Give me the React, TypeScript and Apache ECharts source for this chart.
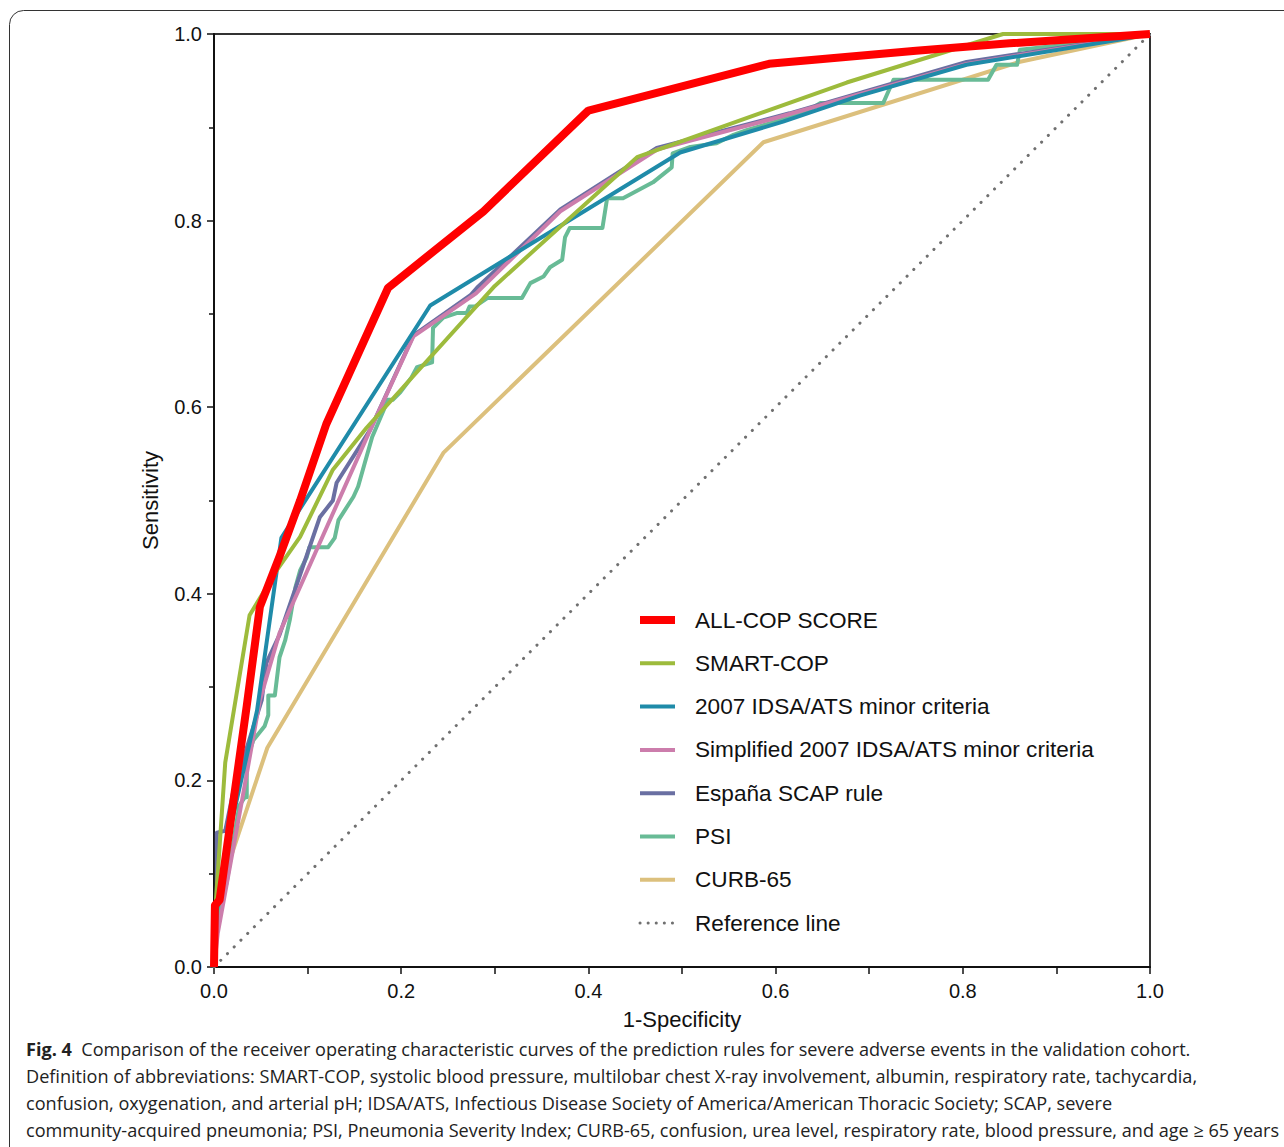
import React, { useEffect, useRef } from "react";
import * as echarts from "echarts";

// ---------- data (x = 1-Specificity, y = Sensitivity) ----------
const allCop: number[][] = [
  [0, 0], [0.001, 0.066], [0.006, 0.072], [0.035, 0.28], [0.049, 0.386], [0.07, 0.44],
  [0.092, 0.5], [0.12, 0.582], [0.186, 0.728], [0.288, 0.81], [0.4, 0.918], [0.593, 0.968],
  [0.75, 0.982], [0.85, 0.99], [1, 1],
];
const smartCop: number[][] = [
  [0, 0], [0.002, 0.07], [0.012, 0.219], [0.038, 0.377], [0.067, 0.425], [0.092, 0.461],
  [0.127, 0.533], [0.163, 0.578], [0.3, 0.73], [0.452, 0.868], [0.676, 0.948], [0.843, 1], [1, 1],
];
const idsa2007: number[][] = [
  [0, 0], [0.003, 0.06], [0.02, 0.16], [0.046, 0.275], [0.072, 0.46], [0.231, 0.709],
  [0.498, 0.873], [0.608, 0.906], [0.69, 0.934], [0.804, 0.967], [0.968, 0.994], [1, 1],
];
const simplifiedIdsa: number[][] = [
  [0, 0], [0.004, 0.036], [0.03, 0.179], [0.049, 0.286], [0.07, 0.358], [0.167, 0.576],
  [0.213, 0.676], [0.28, 0.722], [0.37, 0.81], [0.473, 0.876], [0.6, 0.91], [0.804, 0.968], [1, 1],
];
const espanaScap: number[][] = [
  [0, 0], [0.003, 0.07], [0.003, 0.144], [0.012, 0.146], [0.021, 0.19], [0.051, 0.286],
  [0.056, 0.326], [0.07, 0.356], [0.113, 0.482], [0.127, 0.5], [0.131, 0.519], [0.167, 0.576],
  [0.213, 0.677], [0.274, 0.72], [0.281, 0.728], [0.37, 0.812], [0.473, 0.878], [0.615, 0.915],
  [0.804, 0.97], [1, 1],
];
const psi: number[][] = [
  [0, 0], [0.002, 0.04], [0.008, 0.07], [0.0135, 0.09], [0.027, 0.173], [0.033, 0.182],
  [0.035, 0.182], [0.035, 0.222], [0.042, 0.243], [0.054, 0.258], [0.058, 0.27], [0.058, 0.291],
  [0.065, 0.291], [0.07, 0.332], [0.076, 0.35], [0.081, 0.372], [0.087, 0.407], [0.092, 0.425],
  [0.099, 0.439], [0.102, 0.45], [0.122, 0.45], [0.129, 0.46], [0.133, 0.479], [0.149, 0.504],
  [0.154, 0.515], [0.161, 0.54], [0.169, 0.568], [0.186, 0.608], [0.191, 0.608], [0.199, 0.616],
  [0.211, 0.632], [0.217, 0.643], [0.233, 0.648], [0.234, 0.685], [0.245, 0.696], [0.26, 0.701],
  [0.27, 0.701], [0.273, 0.708], [0.279, 0.708], [0.292, 0.717], [0.329, 0.717], [0.338, 0.733],
  [0.352, 0.74], [0.359, 0.75], [0.372, 0.758], [0.375, 0.782], [0.38, 0.792], [0.415, 0.792],
  [0.42, 0.824], [0.437, 0.824], [0.469, 0.841], [0.489, 0.857], [0.49, 0.872], [0.509, 0.879],
  [0.537, 0.883], [0.555, 0.892], [0.569, 0.897], [0.6, 0.906], [0.63, 0.915], [0.648, 0.926],
  [0.715, 0.926], [0.726, 0.951], [0.827, 0.951], [0.836, 0.967], [0.858, 0.967], [0.861, 0.983],
  [0.97, 0.995], [1, 1],
];
const curb65: number[][] = [
  [0, 0], [0.002, 0.07], [0.057, 0.235], [0.245, 0.551], [0.587, 0.884], [0.86, 0.97], [1, 1],
];
const referenceLine: number[][] = [[0, 0], [1, 1]];

const legendNames = [
  "ALL-COP SCORE",
  "SMART-COP",
  "2007 IDSA/ATS minor criteria",
  "Simplified 2007 IDSA/ATS minor criteria",
  "España SCAP rule",
  "PSI",
  "CURB-65",
  "Reference line",
];
const colors = ["#ff0000", "#9dbb3c", "#1f8ba9", "#cc7dac", "#6a6fa2", "#68bb96", "#dcc07d", "#707070"];
const widths = [8, 4, 4, 4, 4, 4, 4, 3];

const captionLines = [
  "Definition of abbreviations: SMART-COP, systolic blood pressure, multilobar chest X-ray involvement, albumin, respiratory rate, tachycardia,",
  "confusion, oxygenation, and arterial pH; IDSA/ATS, Infectious Disease Society of America/American Thoracic Society; SCAP, severe",
  "community-acquired pneumonia; PSI, Pneumonia Severity Index; CURB-65, confusion, urea level, respiratory rate, blood pressure, and age ≥ 65 years",
];
const captionTitle = "Fig. 4";
const captionFirst = "Comparison of the receiver operating characteristic curves of the prediction rules for severe adverse events in the validation cohort.";

const FONT = "'Liberation Sans', Arial, Helvetica, sans-serif";
const CAP_FONT = "'Open Sans', 'Noto Sans', sans-serif";
const CAP_SIZE = 18.1;

export default function App() {
  const ref = useRef<HTMLDivElement>(null);
  useEffect(() => {
    document.body.style.margin = "0";
    const chart = echarts.init(ref.current!, null, { renderer: "svg" });
    const dataByName: Record<string, number[][]> = {
      "ALL-COP SCORE": allCop,
      "SMART-COP": smartCop,
      "2007 IDSA/ATS minor criteria": idsa2007,
      "Simplified 2007 IDSA/ATS minor criteria": simplifiedIdsa,
      "España SCAP rule": espanaScap,
      PSI: psi,
      "CURB-65": curb65,
      "Reference line": referenceLine,
    };
    // drawing order (bottom -> top)
    const drawOrder = [7, 6, 5, 4, 3, 2, 1, 0];
    const series = drawOrder.map((i) => {
      const isRef = i === 7;
      return {
        type: "line",
        name: legendNames[i],
        data: dataByName[legendNames[i]],
        symbol: "none",
        showSymbol: false,
        silent: true,
        lineStyle: {
          color: colors[i],
          width: widths[i],
          type: isRef ? [0.1, 9.4] : "solid",
          cap: isRef ? "round" : "butt",
          join: "round",
        },
        itemStyle: { color: colors[i] },
      };
    });

    const capGraphics: any[] = [
      {
        type: "rect",
        shape: { x: 9.5, y: 10.5, width: 1400, height: 1400, r: 14 },
        style: { fill: "none", stroke: "#333", lineWidth: 1 },
        silent: true,
        z: -1,
      },
      {
        type: "text",
        left: 26,
        top: 1040,
        style: {
          text: "{b|" + captionTitle + "}  " + captionFirst,
          fontFamily: CAP_FONT,
          fontSize: CAP_SIZE,
          fill: "#222",
          rich: { b: { fontWeight: "bold", fontFamily: CAP_FONT, fontSize: CAP_SIZE, fill: "#222" } },
        },
      },
      ...captionLines.map((t, k) => ({
        type: "text",
        left: 26,
        top: 1067 + k * 27,
        style: { text: t, fontFamily: CAP_FONT, fontSize: CAP_SIZE, fill: "#222" },
      })),
    ];

    chart.setOption({
      animation: false,
      backgroundColor: "#fff",
      grid: {
        left: 214,
        right: 134,
        top: 34,
        bottom: 180,
        show: true,
        borderColor: "#333",
        borderWidth: 2,
        backgroundColor: "transparent",
      },
      xAxis: {
        type: "value",
        min: 0,
        max: 1,
        interval: 0.2,
        name: "1-Specificity",
        nameLocation: "middle",
        nameGap: 41,
        nameTextStyle: { fontFamily: FONT, fontSize: 22, color: "#111" },
        axisLine: { lineStyle: { color: "#111", width: 2 } },
        axisTick: { length: 7, lineStyle: { color: "#111", width: 1.5 } },
        minorTick: { show: true, splitNumber: 2, length: 7, lineStyle: { color: "#111", width: 1.5 } },
        axisLabel: {
          fontFamily: FONT,
          fontSize: 20,
          color: "#111",
          margin: 14,
          formatter: (v: number) => v.toFixed(1),
        },
        splitLine: { show: false },
      },
      yAxis: {
        type: "value",
        min: 0,
        max: 1,
        interval: 0.2,
        name: "Sensitivity",
        nameLocation: "middle",
        nameGap: 53,
        nameTextStyle: { fontFamily: FONT, fontSize: 22, color: "#111" },
        axisLine: { lineStyle: { color: "#111", width: 2 } },
        axisTick: { length: 7, lineStyle: { color: "#111", width: 1.5 } },
        minorTick: { show: true, splitNumber: 2, length: 5, lineStyle: { color: "#111", width: 1.5 } },
        axisLabel: {
          fontFamily: FONT,
          fontSize: 20,
          color: "#111",
          margin: 12,
          formatter: (v: number) => v.toFixed(1),
        },
        splitLine: { show: false },
      },
      legend: {
        orient: "vertical",
        left: 631,
        top: 603,
        itemWidth: 35,
        itemHeight: 14,
        itemGap: 19.3,
        selectedMode: false,
        textStyle: {
          fontFamily: FONT,
          fontSize: 22.6,
          color: "#111",
          lineHeight: 24,
          padding: [0, 0, 0, 15],
        },
        data: legendNames.map((n, i) => ({
          name: n,
          itemStyle: { opacity: 0 },
          lineStyle:
            i === 7
              ? { color: colors[i], width: 3, type: [0.1, 8], cap: "round" }
              : { color: colors[i], width: widths[i], type: "solid" },
        })),
      },
      graphic: capGraphics,
      series,
    });
    return () => chart.dispose();
  }, []);
  return <div ref={ref} style={{ width: 1284, height: 1147 }} />;
}
